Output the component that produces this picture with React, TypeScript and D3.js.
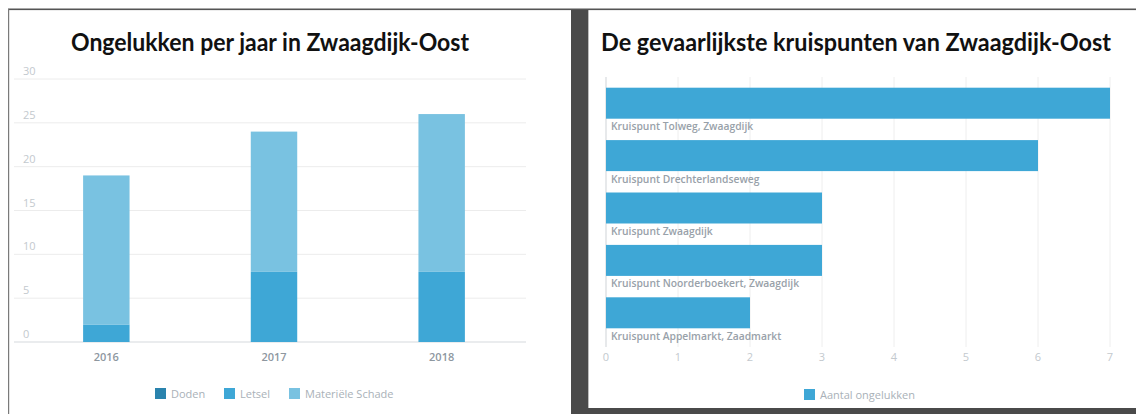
import React from "react";
import * as d3 from "d3";

const years = ["2016", "2017", "2018"];
const doden = [0, 0, 0];
const letsel = [2, 8, 8];
const materiele = [17, 16, 18];
const seriesNames = ["Doden", "Letsel", "Materiële Schade"];
const seriesColors = ["#2a83ad", "#3ea7d6", "#79c2e1"];
const yTicks = [0, 5, 10, 15, 20, 25, 30];

const crossings = [
  "Kruispunt Tolweg, Zwaagdijk",
  "Kruispunt Drechterlandseweg",
  "Kruispunt Zwaagdijk",
  "Kruispunt Noorderboekert, Zwaagdijk",
  "Kruispunt Appelmarkt, Zaadmarkt",
];
const crossingCounts = [7, 6, 3, 3, 2];
const xTicks = [0, 1, 2, 3, 4, 5, 6, 7];

const W = 1136;
const H = 414;
const FONT = "'Open Sans', 'Noto Sans', sans-serif";
const TITLE_FONT = "Lato, 'Open Sans', sans-serif";

export default function App() {
  // Left chart
  const table = years.map((y, i) => ({
    year: y,
    Doden: doden[i],
    Letsel: letsel[i],
    "Materiële Schade": materiele[i],
  }));
  const stacked = d3.stack<any>().keys(seriesNames)(table);
  const xL = d3.scaleBand<string>().domain(years).range([22.5, 525.5]).padding(0);
  const yL = d3.scaleLinear().domain([0, 30]).range([342, 79]);
  const barW = xL.bandwidth() * 0.277;

  // Right chart
  const xR = d3.scaleLinear().domain([0, 7]).range([606, 1110]);
  const yR = d3.scaleBand<string>().domain(crossings).range([82.5, 344.5]).padding(0);
  const barH = 31;

  const legendL = [
    { x: 155, tx: 171 },
    { x: 224, tx: 240 },
    { x: 289, tx: 305 },
  ];

  return (
    <svg
      width={W}
      height={H}
      style={{ position: "absolute", left: 0, top: 0, display: "block", background: "#fff" }}
    >
      {/* frame */}
      <rect x={0} y={0} width={W} height={H} fill="#ffffff" />
      <rect x={571} y={10} width={17} height={H - 10} fill="#4a4a4a" />
      <rect x={571} y={408} width={W - 571} height={6} fill="#4a4a4a" />
      <line x1={588.5} x2={588.5} y1={10} y2={408} stroke="#bdbdbd" strokeWidth={1} />
      <rect x={8} y={8.5} width={W - 8} height={1.6} fill="#555555" />
      <rect x={8} y={9} width={1.2} height={H - 9} fill="#7a7a7a" />

      {/* Left chart */}
      <text
        x={270}
        y={51}
        textAnchor="middle"
        fontFamily={TITLE_FONT}
        fontWeight={700}
        fontSize={24}
        fill="#111"
        textLength={398}
        lengthAdjust="spacingAndGlyphs"
      >
        Ongelukken per jaar in Zwaagdijk-Oost
      </text>
      {yTicks.map((t) => (
        <g key={"yl" + t}>
          <line
            x1={14}
            x2={526}
            y1={yL(t)}
            y2={yL(t)}
            stroke={t === 0 ? "#d5d9dd" : "#ececec"}
            strokeWidth={1}
          />
          <text x={23} y={yL(t) - 4} fontFamily={FONT} fontSize={11} fill="#c3c9ce">
            {t}
          </text>
        </g>
      ))}
      {stacked.map((s, si) =>
        s.map((d: any, i: number) => {
          const h = yL(d[0]) - yL(d[1]);
          if (h <= 0) return null;
          return (
            <rect
              key={si + "-" + i}
              x={(xL(years[i]) as number) + xL.bandwidth() / 2 - barW / 2}
              y={yL(d[1])}
              width={barW}
              height={h}
              fill={seriesColors[si]}
            />
          );
        })
      )}
      {years.map((y) => (
        <text
          key={"xl" + y}
          x={(xL(y) as number) + xL.bandwidth() / 2}
          y={361}
          textAnchor="middle"
          fontFamily={FONT}
          fontWeight={600}
          fontSize={11}
          fill="#8e979f"
        >
          {y}
        </text>
      ))}
      {seriesNames.map((n, i) => (
        <g key={"lg" + n}>
          <rect x={legendL[i].x} y={388} width={11} height={11} fill={seriesColors[i]} />
          <text x={legendL[i].tx} y={397.5} fontFamily={FONT} fontSize={11} fill="#a9b1b8">
            {n}
          </text>
        </g>
      ))}

      {/* Right chart */}
      <text
        x={601}
        y={51}
        fontFamily={TITLE_FONT}
        fontWeight={700}
        fontSize={24}
        fill="#111"
        textLength={510}
        lengthAdjust="spacingAndGlyphs"
      >
        De gevaarlijkste kruispunten van Zwaagdijk-Oost
      </text>
      {xTicks.map((t) => (
        <g key={"xr" + t}>
          <line
            x1={xR(t)}
            x2={xR(t)}
            y1={77}
            y2={347}
            stroke={t === 0 ? "#cfd3d7" : "#eeeeee"}
            strokeWidth={1}
          />
          <text
            x={xR(t)}
            y={361}
            textAnchor="middle"
            fontFamily={FONT}
            fontSize={11}
            fill="#c3c9ce"
          >
            {t}
          </text>
        </g>
      ))}
      {crossings.map((c, i) => {
        const top = (yR(c) as number) + 5.2;
        return (
          <g key={"br" + c}>
            <rect
              x={xR(0)}
              y={top}
              width={xR(crossingCounts[i]) - xR(0)}
              height={barH}
              fill="#3ea7d6"
            />
            <text
              x={611}
              y={top + barH + 11.5}
              fontFamily={FONT}
              fontWeight={600}
              fontSize={10.3}
              fill="#98a1a9"
            >
              {c}
            </text>
          </g>
        );
      })}
      <rect x={804} y={389} width={11} height={11} fill="#3ea7d6" />
      <text x={820} y={398.5} fontFamily={FONT} fontSize={11} fill="#a9b1b8">
        Aantal ongelukken
      </text>
    </svg>
  );
}
